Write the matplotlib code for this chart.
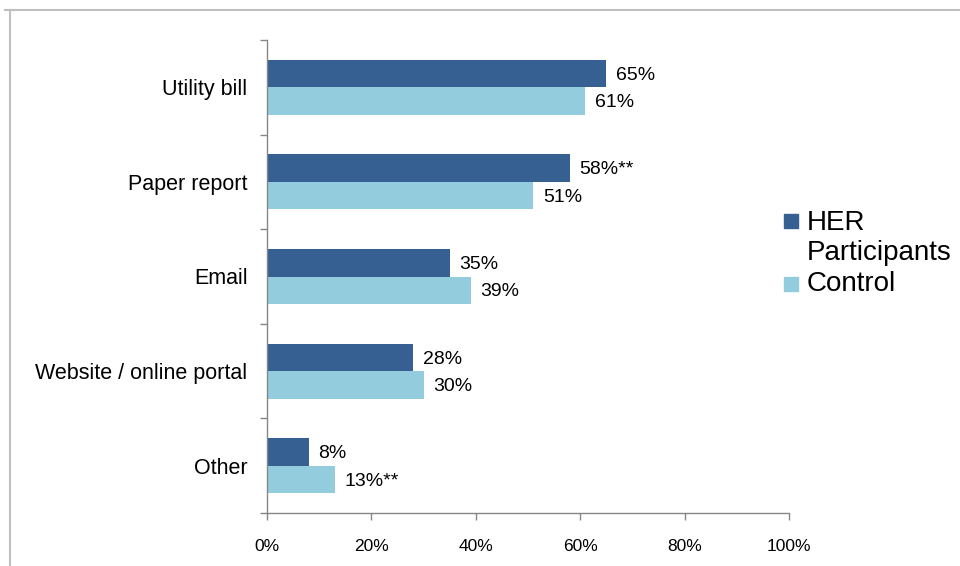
import matplotlib
matplotlib.use("Agg")
import matplotlib.pyplot as plt
from matplotlib.patches import Rectangle
from matplotlib.lines import Line2D
import numpy as np

categories = ["Utility bill", "Paper report", "Email", "Website / online portal", "Other"]
her_values = [65, 58, 35, 28, 8]
control_values = [61, 51, 39, 30, 13]
her_labels = ["65%", "58%**", "35%", "28%", "8%"]
control_labels = ["61%", "51%", "39%", "30%", "13%**"]
series_names = ["HER\nParticipants", "Control"]
x_ticks = [0, 20, 40, 60, 80, 100]
x_tick_labels = ["0%", "20%", "40%", "60%", "80%", "100%"]

dark = "#366092"
light = "#93CDDD"
axis_gray = "#868686"

plt.rcParams["font.family"] = ["Liberation Sans", "DejaVu Sans"]

fig = plt.figure(figsize=(9.6, 5.66), dpi=100)
ax = fig.add_axes([267 / 960, 1 - 513 / 566, (789 - 267) / 960, (513 - 40) / 566])

n = len(categories)
y = np.arange(n)
h = 0.29
ax.barh(y - h / 2, her_values, height=h, color=dark)
ax.barh(y + h / 2, control_values, height=h, color=light)

for yi, v, lab in zip(y, her_values, her_labels):
    ax.annotate(lab, (v, yi - h / 2), xytext=(7, -1.2), textcoords="offset points",
                va="center", ha="left", fontsize=14)
for yi, v, lab in zip(y, control_values, control_labels):
    ax.annotate(lab, (v, yi + h / 2), xytext=(7, -1.2), textcoords="offset points",
                va="center", ha="left", fontsize=14)

ax.set_xlim(0, 100)
ax.set_ylim(n - 0.5, -0.5)
ax.set_xticks(x_ticks)
ax.set_xticklabels(x_tick_labels, fontsize=12.5)
ax.set_yticks(y)
ax.set_yticklabels(categories, fontsize=15.5)
ax.set_yticks(np.arange(-0.5, n, 1), minor=True)
ax.tick_params(axis="y", which="major", length=0, pad=14)
ax.tick_params(axis="y", which="minor", length=5, color=axis_gray, width=1)
ax.tick_params(axis="x", which="major", length=5, color=axis_gray, width=1, pad=14)

for side in ["top", "right"]:
    ax.spines[side].set_visible(False)
for side in ["left", "bottom"]:
    ax.spines[side].set_color(axis_gray)
    ax.spines[side].set_linewidth(1)

# Legend drawn as figure-level patches and text
fig.patches.append(Rectangle((784 / 960, 1 - 228 / 566), 14 / 960, 14 / 566,
                             transform=fig.transFigure, color=dark))
fig.patches.append(Rectangle((784 / 960, 1 - 291 / 566), 14 / 960, 14 / 566,
                             transform=fig.transFigure, color=light))
fig.text(807 / 960, 1 - 238.5 / 566, series_names[0], fontsize=20, va="center",
         ha="left", linespacing=1.2)
fig.text(807 / 960, 1 - 284 / 566, series_names[1], fontsize=20, va="center", ha="left")

# Outer frame of the chart area
fig.lines.append(Line2D([5 / 960, 1], [1 - 9.5 / 566, 1 - 9.5 / 566],
                        transform=fig.transFigure, color="#BFBFBF", linewidth=1.5))
fig.lines.append(Line2D([9.5 / 960, 9.5 / 960], [0, 1 - 9.5 / 566],
                        transform=fig.transFigure, color="#BFBFBF", linewidth=1.5))

fig.savefig("out.png", dpi=100)
